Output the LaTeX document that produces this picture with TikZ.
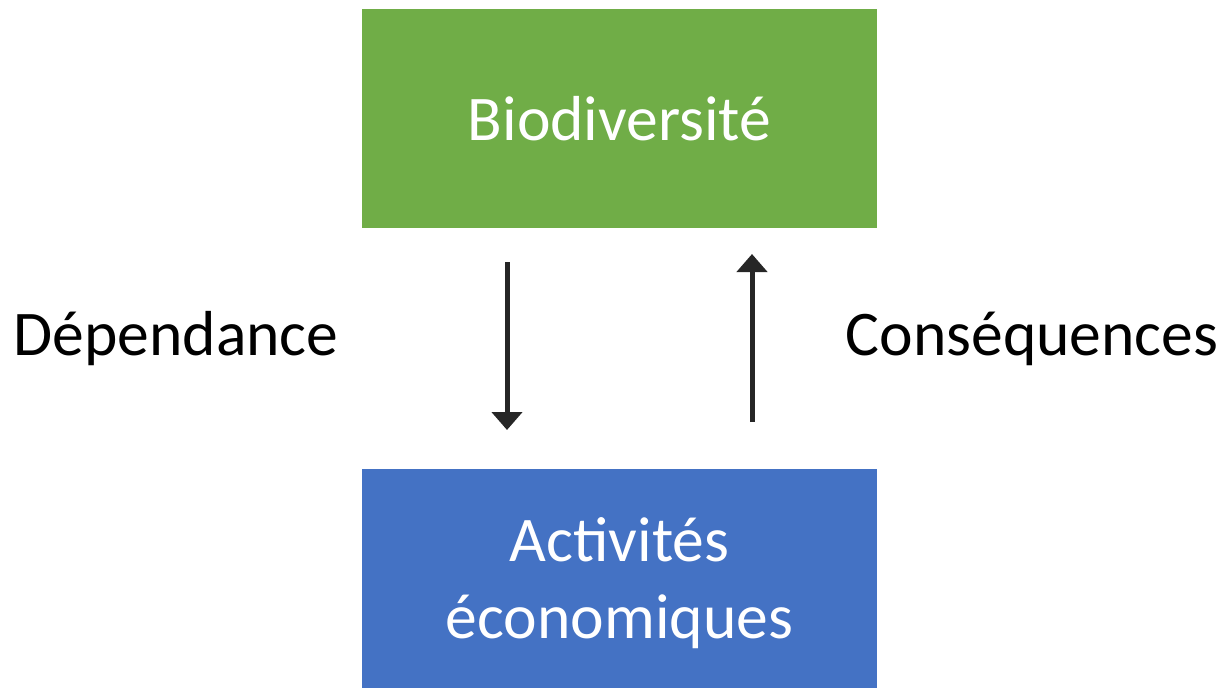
\documentclass[tikz,border=0pt]{standalone}
\usepackage{fontspec}
\setmainfont{Carlito}
\usetikzlibrary{arrows.meta}
\definecolor{boxgreen}{HTML}{70AD47}
\definecolor{boxblue}{HTML}{4472C4}
\definecolor{arrowgray}{HTML}{262626}
\tikzset{
  box/.style={draw=none, minimum width=257.5pt, minimum height=109.5pt, inner sep=0pt, text=white, font=\fontsize{31.8}{38.5}\selectfont, align=center},
  boxtext/.style={inner sep=0pt, text=white, font=\fontsize{31.8}{38.5}\selectfont, align=center},
  lbl/.style={font=\fontsize{31.8}{38.5}\selectfont, text=black, inner sep=0pt},
  flow/.style={line width=2.5pt, draw=arrowgray, -{Triangle[width=15pt,length=9pt]}}
}
\begin{document}
\begin{tikzpicture}[x=0.5pt,y=-0.5pt]
\useasboundingbox (0,0) rectangle (1225,687);
\node[box, fill=boxgreen] (bio) at (619.5,118.5) {Biodiversité};
\node[box, fill=boxblue] (act) at (619.5,578.5) {};
\node[boxtext] (acttext) at (619.5,583) {Activités\\économiques};
\coordinate (d1) at (507,262);
\coordinate (d2) at (507,430);
\coordinate (u1) at (752,422);
\coordinate (u2) at (752,254);
\draw[flow] (d1) -- (d2);
\draw[flow] (u1) -- (u2);
\node[lbl] (dep) at (176,339) {Dépendance};
\node[lbl] (cons) at (1032,339) {Conséquences};
\end{tikzpicture}
\end{document}
